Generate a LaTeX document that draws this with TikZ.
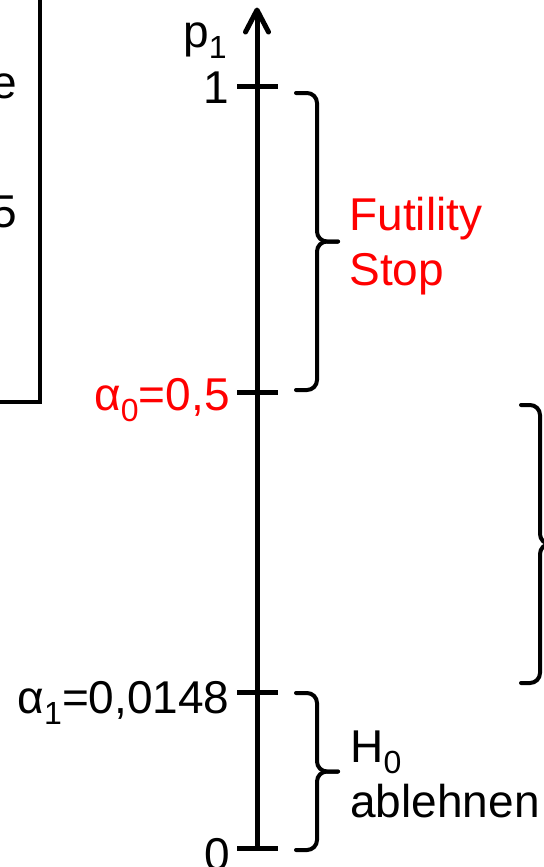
\documentclass[tikz,border=0pt]{standalone}
\usepackage{fontspec}
\setmainfont{Liberation Sans}
\definecolor{futred}{RGB}{255,0,0}
\newcommand{\mysub}[1]{\raisebox{-5.5pt}{\fontsize{16pt}{16pt}\selectfont #1}}
% name, x-left, y-top, y-bottom, arm length
\newcommand{\mybrace}[5]{%
  \draw[bracestyle] (#2,#3) -- (#2+#5,#3) -- (#2+#5,{(#3+#4)/2}) -- (#2+#5+21,{(#3+#4)/2});
  \draw[bracestyle] (#2,#4) -- (#2+#5,#4) -- (#2+#5,{(#3+#4)/2}) -- (#2+#5+21,{(#3+#4)/2});
  \coordinate (#1) at (#2+#5+21,{(#3+#4)/2});}
\tikzset{
  bracestyle/.style={line width=2pt, rounded corners=5pt, line cap=round},
  axisline/.style={line width=2.5pt},
  tickline/.style={line width=2.5pt},
  boxline/.style={line width=1.75pt},
  lbl/.style={inner sep=0pt, anchor=base east},
  rlbl/.style={inner sep=0pt, anchor=base west},
}
\begin{document}
\begin{tikzpicture}[x=0.5pt,y=-0.5pt,font=\fontsize{23pt}{27.5pt}\selectfont]
\useasboundingbox (0,0) rectangle (544,867);
\clip (0,0) rectangle (544,867);
% left box (cropped)
\draw[boxline] (-20,402) -- (40,402) -- (40,-20);
\node[lbl] (te) at (17,98) {e};
\node[lbl] (tf) at (17,227) {5};
% axis
\coordinate (axbot) at (257,849);
\coordinate (axtop) at (257,10);
\draw[axisline] (axbot) -- (axtop);
\draw[axisline, line cap=round, line join=round] (245.5,32) -- (axtop) -- (268.5,32);
\node[lbl] (p1) at (227,47) {p\mysub{1}};
% ticks
\draw[tickline] (237,86) -- (278,86);
\draw[tickline] (237,392) -- (278,392);
\draw[tickline] (237,692) -- (278,692);
\draw[tickline] (237,848) -- (278,848);
\node[lbl] (one) at (229,103) {1};
\node[lbl, text=futred] (a0) at (230,410) {α\mysub{0}=0,5};
\node[lbl] (a1) at (230,713) {α\mysub{1}=0,0148};
\node[lbl] (zero) at (230,870) {0};
% braces
\mybrace{bfut}{296}{93}{390}{21}
\mybrace{bh0}{296}{693}{850}{21}
\mybrace{bmid}{521}{405}{683}{19}
% brace texts
\node[rlbl, text=futred] (fut) at (349,230) {Futility};
\node[rlbl, text=futred] (stop) at (349,285) {Stop};
\node[rlbl] (h0) at (350,762) {H\mysub{0}};
\node[rlbl] (abl) at (350,817) {ablehnen};
\end{tikzpicture}
\end{document}
